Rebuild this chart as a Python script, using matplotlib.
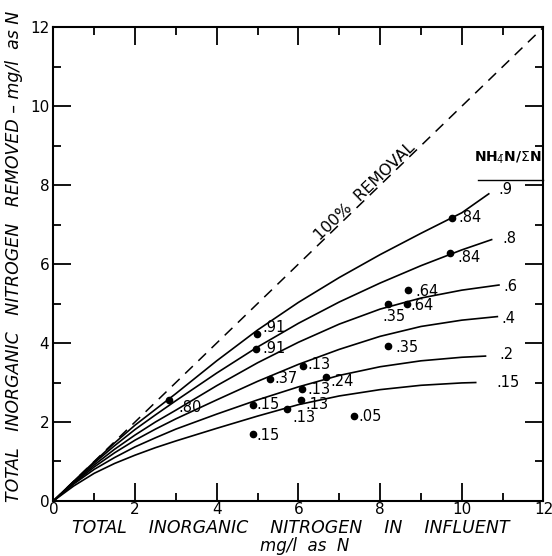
import matplotlib
matplotlib.use("Agg")
import matplotlib.pyplot as plt
from matplotlib.ticker import MultipleLocator

# data
grid_x = [0, 0.5, 1, 1.5, 2, 2.5, 3, 4, 5, 6, 7, 8, 9, 10]
curve_names = [".9", ".8", ".6", ".4", ".2", ".15"]
curve_y = {
    ".9":  [0, 0.50, 0.99, 1.47, 1.92, 2.32, 2.72, 3.55, 4.33, 5.03, 5.66, 6.24, 6.78, 7.30],
    ".8":  [0, 0.49, 0.96, 1.40, 1.81, 2.18, 2.54, 3.24, 3.90, 4.50, 5.04, 5.52, 5.96, 6.36],
    ".6":  [0, 0.47, 0.91, 1.31, 1.67, 2.00, 2.30, 2.92, 3.50, 4.02, 4.48, 4.86, 5.14, 5.34],
    ".4":  [0, 0.45, 0.86, 1.22, 1.54, 1.82, 2.08, 2.56, 3.03, 3.46, 3.84, 4.17, 4.42, 4.58],
    ".2":  [0, 0.43, 0.80, 1.10, 1.37, 1.60, 1.82, 2.20, 2.56, 2.89, 3.18, 3.40, 3.55, 3.64],
    ".15": [0, 0.38, 0.70, 0.95, 1.16, 1.35, 1.52, 1.84, 2.15, 2.44, 2.66, 2.82, 2.93, 2.99],
}
curve_end = {".9": (10.66, 7.78), ".8": (10.73, 6.62), ".6": (10.91, 5.47),
             ".4": (10.87, 4.67), ".2": (10.58, 3.67), ".15": (10.34, 3.00)}
curve_label_pos = {".9": (11.07, 7.90), ".8": (11.17, 6.66), ".6": (11.20, 5.44),
                   ".4": (11.15, 4.63), ".2": (11.10, 3.70), ".15": (11.12, 3.01)}

pts_x = [2.82, 4.98, 4.96, 6.11, 5.31, 6.68, 6.10, 6.06, 4.88, 5.73, 7.37, 4.88,
         9.76, 9.72, 8.69, 8.66, 8.20, 8.19]
pts_y = [2.57, 4.24, 3.86, 3.42, 3.09, 3.13, 2.84, 2.57, 2.43, 2.34, 2.15, 1.70,
         7.18, 6.29, 5.34, 4.98, 4.98, 3.92]
pts_lab = [".80", ".91", ".91", ".13", ".37", ".24", ".13", ".13", ".15", ".13", ".05", ".15",
           ".84", ".84", ".64", ".64", ".35", ".35"]
# label offsets in pixels
pts_off = [(10, -8), (6, 6), (6, 0), (4, 1), (4, 0), (4, -4), (5, -1), (5, -5), (4, 1),
           (5, -9), (4, 0), (4, -2), (6, 0), (7, -5), (7, -1), (3, -1), (-6, -12), (8, -1)]

fig = plt.figure(figsize=(5.52, 5.56), dpi=100)
ax = fig.add_axes([0.0966, 0.099, 0.888, 0.852])

# 100% removal line
ax.plot([0, 12], [0, 12], color="black", lw=1.1, dashes=(7, 5))

for name in curve_names:
    xs = grid_x + [curve_end[name][0]]
    ys = curve_y[name] + [curve_end[name][1]]
    ax.plot(xs, ys, color="black", lw=1.2)
    ax.text(*curve_label_pos[name], name, fontsize=10.5, ha="center", va="center")

ax.plot(pts_x, pts_y, "o", color="black", ms=4.5)
for x, y, lab, off in zip(pts_x, pts_y, pts_lab, pts_off):
    ax.annotate(lab, (x, y), xytext=off, textcoords="offset pixels",
                fontsize=10.5, ha="left", va="center")

ax.text(7.63, 7.84, "100%  REMOVAL", fontsize=11.5, rotation=44, ha="center", va="center",
        rotation_mode="anchor")
ax.text(10.3, 8.7, r"NH$_{\bar{4}}$N/$\Sigma$N", fontsize=10, ha="left", va="center",
        fontweight="bold")
ax.plot([10.4, 12.0], [8.14, 8.14], color="black", lw=1.0, clip_on=False)

ax.set_xlim(0, 12)
ax.set_ylim(0, 12)
ax.xaxis.set_major_locator(MultipleLocator(2))
ax.xaxis.set_minor_locator(MultipleLocator(1))
ax.yaxis.set_major_locator(MultipleLocator(2))
ax.yaxis.set_minor_locator(MultipleLocator(1))
ax.tick_params(which="both", direction="in", top=True, right=True, width=1.3, labelsize=11)
ax.tick_params(which="major", length=13)
ax.tick_params(which="minor", length=6)
ax.tick_params(axis="x", which="major", pad=1)
ax.tick_params(axis="y", which="major", pad=3)
for s in ax.spines.values():
    s.set_linewidth(1.5)

fig.text(291 / 552, 1 - 528 / 556, "TOTAL    INORGANIC    NITROGEN    IN    INFLUENT",
         fontsize=12.5, style="italic", ha="center", va="center")
fig.text(305 / 552, 1 - 546 / 556, "mg/l  as  N", fontsize=12, style="italic",
         ha="center", va="center")
fig.text(14 / 552, 1 - 256 / 556, "TOTAL   INORGANIC   NITROGEN   REMOVED – mg/l  as N",
         fontsize=12.5, style="italic", ha="center", va="center", rotation=90)

fig.savefig("out.png", dpi=100)
